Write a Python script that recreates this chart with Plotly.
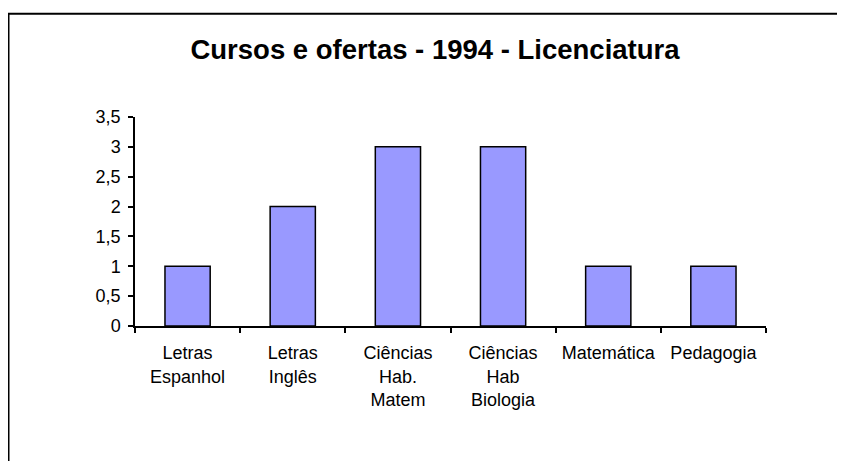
import plotly.graph_objects as go

categories = ["Letras<br>Espanhol", "Letras<br>Inglês", "Ciências<br>Hab.<br>Matem",
              "Ciências<br>Hab<br>Biologia", "Matemática", "Pedagogia"]
values = [1, 2, 3, 3, 1, 1]
y_ticks = [0, 0.5, 1, 1.5, 2, 2.5, 3, 3.5]
y_tick_labels = ["0", "0,5", "1", "1,5", "2", "2,5", "3", "3,5"]
title_text = "Cursos e ofertas - 1994 - Licenciatura"

W, H = 845, 461
OFF = 8  # default page body margin
L, R, T, B = 135 - OFF, 766 - OFF, 116.5 - OFF, 326.5 - OFF
pw, ph = R - L, B - T

def px_x(p):
    return (p - L) / pw

def px_y(p):
    return (B - p) / ph

fig = go.Figure(go.Bar(
    x=categories, y=values,
    marker=dict(color="#9999FF", line=dict(color="black", width=1.5)),
))

fig.update_layout(
    width=W, height=H,
    margin=dict(l=L, r=W - R, t=T, b=H - B),
    paper_bgcolor="white", plot_bgcolor="white",
    font=dict(family="Liberation Sans, Arial, sans-serif", size=18, color="black"),
    bargap=0.57,
    showlegend=False,
    title=dict(text="<b>" + title_text + "</b>", font=dict(size=27.5, color="black"),
               x=(435 - OFF) / W, xanchor="center", xref="container",
               y=1 - (49 - OFF) / H, yanchor="middle", yref="container"),
    xaxis=dict(showline=True, linecolor="black", linewidth=1.5,
               ticks="outside", tickson="boundaries", ticklen=5, tickcolor="black",
               tickwidth=1.5, showgrid=False, fixedrange=True, ticklabelstandoff=10),
    yaxis=dict(range=[0, 3.5], tickvals=y_ticks, ticktext=y_tick_labels,
               showline=True, linecolor="black", linewidth=1.5,
               ticks="outside", ticklen=5, tickcolor="black", tickwidth=1.5,
               showgrid=False, zeroline=False, fixedrange=True, ticklabelstandoff=4),
    shapes=[dict(type="rect", xref="paper", yref="paper",
                 x0=px_x(0.5), x1=px_x(W + 30), y0=px_y(H + 30), y1=px_y(4.7),
                 line=dict(color="black", width=2), fillcolor="rgba(0,0,0,0)",
                 layer="below")],
)

fig.write_html("out.html", config={"displayModeBar": False})
